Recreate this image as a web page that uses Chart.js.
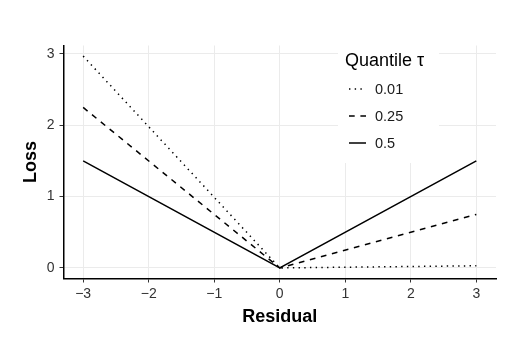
<!DOCTYPE html>
<html>
<head>
<meta charset="utf-8">
<script src="https://cdn.jsdelivr.net/npm/chart.js@4/dist/chart.umd.min.js"></script>
<style>
  html, body { margin: 0; padding: 0; background: #fff; }
  #wrap { width: 519px; height: 346px; }
</style>
</head>
<body>
<div id="wrap"><canvas id="chart" width="519" height="346"></canvas></div>
<script>
const residual = [-3, 0, 3];
const tauLabels = ['0.01', '0.25', '0.5'];
const loss001 = [2.97, 0, 0.03];
const loss025 = [2.25, 0, 0.75];
const loss050 = [1.5, 0, 1.5];
const xTicks = [-3, -2, -1, 0, 1, 2, 3];
const yTicks = [0, 1, 2, 3];

const FONT = '"Liberation Sans", Arial, Helvetica, sans-serif';
const dashes = [[1.4, 4.3], [5.7, 5.7], []];
const series = [loss001, loss025, loss050];

const toPoints = (ys) => residual.map((x, i) => ({ x: x, y: ys[i] }));
const fmt = (v) => (v < 0 ? '\u2212' + Math.abs(v) : String(v));

// ggplot-like legend drawn inside the panel
const legendBox = {
  id: 'legendBox',
  afterDraw(chart) {
    const ctx = chart.ctx;
    ctx.save();
    ctx.fillStyle = '#fff';
    ctx.fillRect(338, 40, 101, 123);
    ctx.fillStyle = '#000';
    ctx.font = '18px ' + FONT;
    ctx.textBaseline = 'middle';
    ctx.fillText('Quantile \u03c4', 345, 61);
    ctx.font = '14.5px ' + FONT;
    tauLabels.forEach((lab, i) => {
      const y = 89 + i * 27;
      ctx.strokeStyle = '#000';
      ctx.lineWidth = 1.5;
      ctx.setLineDash(dashes[i]);
      ctx.beginPath();
      ctx.moveTo(349, y);
      ctx.lineTo(366, y);
      ctx.stroke();
      ctx.setLineDash([]);
      ctx.fillStyle = '#1a1a1a';
      ctx.fillText(lab, 375, y + 1);
    });
    ctx.restore();
  }
};

new Chart(document.getElementById('chart'), {
  type: 'line',
  data: {
    datasets: tauLabels.map((lab, i) => ({
      label: lab,
      data: toPoints(series[i]),
      borderColor: '#000',
      borderWidth: 1.5,
      borderDash: dashes[i],
      borderCapStyle: 'butt',
      pointRadius: 0,
      fill: false,
      tension: 0
    }))
  },
  options: {
    responsive: false,
    animation: false,
    layout: { padding: { left: 20, right: 23, top: 45.5, bottom: 17.5 } },
    plugins: { legend: { display: false }, tooltip: { enabled: false } },
    scales: {
      x: {
        type: 'linear',
        min: -3.3,
        max: 3.3,
        afterBuildTicks: (s) => { s.ticks = xTicks.map(v => ({ value: v })); },
        afterFit: (s) => { s.height = 50; },
        border: { color: '#000', width: 1.5 },
        grid: { color: '#ebebeb', lineWidth: 1, tickColor: '#333', tickLength: 4 },
        ticks: {
          color: '#333',
          font: { family: FONT, size: 14 },
          padding: 3,
          maxRotation: 0,
          callback: (v) => fmt(v)
        },
        title: {
          display: true,
          text: 'Residual',
          color: '#000',
          font: { family: FONT, size: 18, weight: 'bold' },
          padding: { top: 0, bottom: 1 }
        }
      },
      y: {
        type: 'linear',
        min: -0.1485,
        max: 3.1185,
        afterBuildTicks: (s) => { s.ticks = yTicks.map(v => ({ value: v })); },
        afterFit: (s) => { s.width = 43.5; },
        border: { color: '#000', width: 1.5 },
        grid: { color: '#ebebeb', lineWidth: 1, tickColor: '#333', tickLength: 4 },
        ticks: {
          color: '#333',
          font: { family: FONT, size: 14 },
          padding: 5,
          callback: (v) => fmt(v)
        },
        title: {
          display: true,
          text: 'Loss',
          color: '#000',
          font: { family: FONT, size: 18, weight: 'bold' },
          padding: { top: 0, bottom: 0 }
        }
      }
    }
  },
  plugins: [legendBox]
});
</script>
</body>
</html>
